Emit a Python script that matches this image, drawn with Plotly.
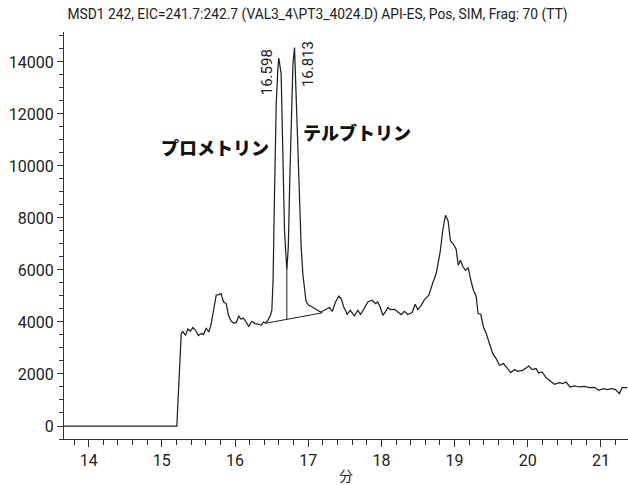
import plotly.graph_objects as go

# Extracted ion chromatogram, m/z 241.7-242.7 (retention time in min, abundance)
rt_min = [
    13.663, 15.205, 15.265, 15.287, 15.324, 15.356, 15.388, 15.424, 15.46, 15.50,
    15.538, 15.57, 15.606, 15.642, 15.675, 15.706, 15.743, 15.779, 15.81, 15.843,
    15.88, 15.91, 15.948, 15.984, 16.016, 16.052, 16.085, 16.116, 16.153, 16.188,
    16.23, 16.276, 16.325, 16.357, 16.389, 16.417, 16.448, 16.485, 16.503, 16.52,
    16.54, 16.563, 16.585, 16.598, 16.63, 16.653, 16.676, 16.708, 16.728, 16.748,
    16.77, 16.792, 16.813, 16.836, 16.867, 16.904, 16.926, 16.95, 16.97, 17.0,
    17.04, 17.11, 17.17, 17.2, 17.246, 17.29, 17.33, 17.373, 17.418, 17.45,
    17.486, 17.533, 17.574, 17.632, 17.678, 17.714, 17.756, 17.814, 17.874, 17.92,
    17.95, 17.983, 18.02, 18.056, 18.088, 18.124, 18.18, 18.224, 18.27, 18.316,
    18.36, 18.42, 18.462, 18.497, 18.544, 18.589, 18.648, 18.702, 18.749, 18.803,
    18.839, 18.876, 18.912, 18.944, 18.985, 19.022, 19.05, 19.08, 19.112, 19.149,
    19.186, 19.222, 19.258, 19.295, 19.322, 19.358, 19.395, 19.432, 19.477, 19.522,
    19.568, 19.613, 19.668, 19.713, 19.768, 19.818, 19.864, 19.932, 20.014, 20.06,
    20.115, 20.15, 20.197, 20.25, 20.306, 20.365, 20.433, 20.478, 20.524, 20.579,
    20.638, 20.706, 20.775, 20.843, 20.91, 20.97, 21.034, 21.093, 21.147, 21.198,
    21.253, 21.29, 21.36,
]
abundance = [
    0, 0, 3554, 3630, 3488, 3731, 3642, 3784, 3680, 3477,
    3554, 3515, 3769, 3615, 3938, 4450, 5027, 5054, 5092, 4769,
    4708, 4258, 4027, 3961, 3977, 4219, 4104, 4154, 4000, 3835,
    4027, 3938, 3911, 3873, 4000, 3961, 4065, 4258, 4450, 5600,
    9000, 12400, 13700, 14150, 13550, 10090, 7525, 5990, 6885, 9450,
    12015, 13940, 14550, 12650, 9450, 6885, 5860, 5220, 4800, 4650,
    4604, 4477, 4385, 4423, 4477, 4554, 4411, 4770, 5000, 4900,
    4577, 4296, 4450, 4231, 4450, 4296, 4477, 4770, 4835, 4708,
    4770, 4577, 4258, 4385, 4554, 4477, 4488, 4385, 4285, 4411,
    4285, 4361, 4680, 4477, 4642, 4861, 5027, 5500, 5861, 6692,
    7527, 8104, 7884, 7115, 6988, 6796, 6180, 6373, 6142, 5988,
    6092, 5604, 5219, 4988, 4323, 4296, 3808, 3554, 3169, 2784,
    2592, 2335, 2400, 2246, 2054, 2169, 2104, 2142, 2308, 2169,
    2208, 2038, 2077, 1861, 1731, 1604, 1669, 1631, 1692, 1500,
    1538, 1500, 1527, 1477, 1488, 1373, 1438, 1400, 1438, 1400,
    1246, 1477, 1477,
]

# Integration: common baseline under both peaks and the drop line at the valley
baseline_rt = [16.417, 17.197]
baseline_abund = [3950, 4354]
valley_rt = 16.708
valley_abund = 5990

# Peak apexes (retention time labels) and compound names
apex_rt = [16.598, 16.813]
apex_abund = [14150, 14550]
compound_names = ["プロメトリン", "テルブトリン"]

title_text = "MSD1 242, EIC=241.7:242.7 (VAL3_4\\PT3_4024.D) API-ES, Pos, SIM, Frag: 70 (TT)"
x_title = "分"
y_ticks = [0, 2000, 4000, 6000, 8000, 10000, 12000, 14000]
x_ticks = [14, 15, 16, 17, 18, 19, 20, 21]

INK = "#222222"
AXIS = "#333333"
LATIN = "Roboto, Liberation Sans, sans-serif"
CJK = "Noto Sans CJK JP, sans-serif"

fig = go.Figure()

fig.add_trace(go.Scatter(
    x=rt_min, y=abundance, mode="lines",
    line=dict(color=INK, width=1.25), hoverinfo="skip", showlegend=False,
))

fig.add_trace(go.Scatter(
    x=baseline_rt, y=baseline_abund, mode="lines",
    line=dict(color=INK, width=1), hoverinfo="skip", showlegend=False,
))

# drop line from the baseline up to the valley between the two peaks
frac = (valley_rt - baseline_rt[0]) / (baseline_rt[1] - baseline_rt[0])
drop_base = baseline_abund[0] + frac * (baseline_abund[1] - baseline_abund[0])
fig.add_trace(go.Scatter(
    x=[valley_rt, valley_rt], y=[drop_base, valley_abund], mode="lines",
    line=dict(color=INK, width=1), hoverinfo="skip", showlegend=False,
))

# vertical retention-time labels beside each apex
label_shifts = [(-11.5, -14), (13.5, -16.5)]
for rt, ab, (dx, dy) in zip(apex_rt, apex_abund, label_shifts):
    fig.add_annotation(
        x=rt, y=ab, text=f"{rt:.3f}", showarrow=False, textangle=-90,
        xanchor="center", yanchor="middle", xshift=dx, yshift=dy,
        font=dict(family=LATIN, size=15, color=INK),
    )

# compound names
name_pos = [(15.72, 10730), (17.667, 11315)]
for name, (nx, ny) in zip(compound_names, name_pos):
    fig.add_annotation(
        x=nx, y=ny, text=name, showarrow=False,
        xanchor="center", yanchor="middle",
        font=dict(family=CJK, size=18, color="#111111", weight=900),
    )

fig.update_layout(
    width=628, height=485,
    margin=dict(l=64, r=0, t=32, b=46),
    paper_bgcolor="white", plot_bgcolor="white",
    title=dict(
        text=title_text, x=0.5056, xanchor="center",
        y=1 - 14 / 485, yanchor="middle", yref="container",
        font=dict(family=LATIN, size=13.8, color=INK),
    ),
    xaxis=dict(
        range=[13.663, 21.37], tickvals=x_ticks, ticktext=[str(v) for v in x_ticks],
        showgrid=False, zeroline=False, showline=True, linecolor=AXIS, linewidth=1,
        ticks="outside", ticklen=7, tickcolor=AXIS, tickwidth=1,
        minor=dict(dtick=0.2, ticks="outside", ticklen=5, tickcolor=AXIS, showgrid=False),
        tickfont=dict(family=LATIN, size=16, color=INK),
        title=dict(text=x_title, font=dict(family=CJK, size=14, color=INK), standoff=3),
    ),
    yaxis=dict(
        range=[-500, 15150], tickvals=y_ticks, ticktext=[str(v) for v in y_ticks],
        showgrid=False, zeroline=False, showline=True, linecolor=AXIS, linewidth=1,
        ticks="outside", ticklen=6, tickcolor=AXIS, tickwidth=1,
        minor=dict(dtick=500, ticks="outside", ticklen=4, tickcolor=AXIS, showgrid=False),
        tickfont=dict(family=LATIN, size=16, color=INK),
    ),
)

fig.write_html("out.html")
